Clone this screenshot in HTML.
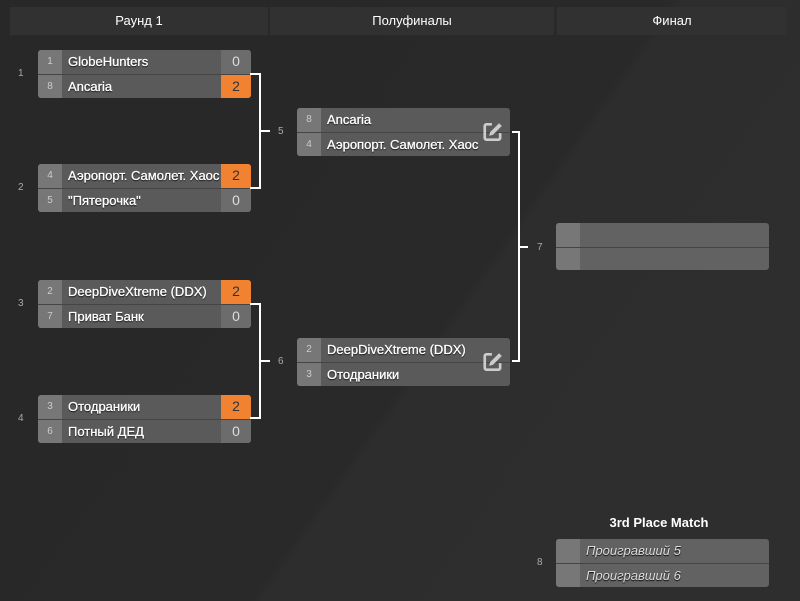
<!DOCTYPE html>
<html><head><meta charset="utf-8"><style>
*{margin:0;padding:0;box-sizing:border-box}
body{width:800px;height:601px;overflow:hidden;background:#2a2a2a;font-family:"Liberation Sans","DejaVu Sans",sans-serif;position:relative;color:#fff}
.bg{position:absolute;inset:0;background:linear-gradient(125deg,#282828 0%,#292929 55%,#2d2d2d 56%,#2e2e2e 100%)}
.hd{position:absolute;top:7px;height:28px;background:#313131;color:#fff;font-size:13px;line-height:28px;text-align:center}
.m{position:absolute;width:213px;height:48px;border-radius:3px;overflow:hidden;background:#5a5a5a}
.r{position:absolute;left:0;width:100%;height:24px;font-size:13px;line-height:23px}
.r.b{top:24px;border-top:1px solid #454545}
.s{position:absolute;left:0;top:0;width:24px;height:100%;background:#777;color:#ccc;font-size:10px;text-align:center}
.n{position:absolute;left:30px;top:0;white-space:nowrap;width:152px;overflow:hidden;text-shadow:0 1px 1px #000;-webkit-text-stroke:0.3px #fff}
.sc{position:absolute;right:0;top:0;width:30px;height:100%;background:#6c6c6c;color:#ddd;text-align:center;font-size:14px}
.sc.o{background:#f08232;color:#333}
.lb{position:absolute;font-size:10px;color:#aaa}
.ln{position:absolute;background:#fff}
.ed{position:absolute;width:22px;height:22px}
.it{font-style:italic;color:#ddd;-webkit-text-stroke:0}
</style></head><body>
<div class="bg"></div>
<div class="hd" style="left:10px;width:258px">Раунд 1</div>
<div class="hd" style="left:270px;width:284px">Полуфиналы</div>
<div class="hd" style="left:557px;width:230px">Финал</div>

<div class="m" style="left:38px;top:50px"><div class="r"><div class="s">1</div><div class="n">GlobeHunters</div><div class="sc">0</div></div><div class="r b"><div class="s">8</div><div class="n">Ancaria</div><div class="sc o">2</div></div></div>
<div class="m" style="left:38px;top:164px"><div class="r"><div class="s">4</div><div class="n">Аэропорт. Самолет. Хаос</div><div class="sc o">2</div></div><div class="r b"><div class="s">5</div><div class="n">"Пятерочка"</div><div class="sc">0</div></div></div>
<div class="m" style="left:38px;top:280px"><div class="r"><div class="s">2</div><div class="n">DeepDiveXtreme (DDX)</div><div class="sc o">2</div></div><div class="r b"><div class="s">7</div><div class="n">Приват Банк</div><div class="sc">0</div></div></div>
<div class="m" style="left:38px;top:395px"><div class="r"><div class="s">3</div><div class="n">Отодраники</div><div class="sc o">2</div></div><div class="r b"><div class="s">6</div><div class="n">Потный ДЕД</div><div class="sc">0</div></div></div>
<div class="lb" style="left:18px;top:68px">1</div>
<div class="lb" style="left:18px;top:182px">2</div>
<div class="lb" style="left:18px;top:298px">3</div>
<div class="lb" style="left:18px;top:413px">4</div>

<div class="ln" style="left:250px;top:73px;width:11px;height:2px"></div>
<div class="ln" style="left:259px;top:73px;width:2px;height:116px"></div>
<div class="ln" style="left:250px;top:187px;width:11px;height:2px"></div>
<div class="ln" style="left:259px;top:130px;width:11px;height:2px"></div>
<div class="lb" style="left:278px;top:126px">5</div>
<div class="ln" style="left:250px;top:303px;width:11px;height:2px"></div>
<div class="ln" style="left:259px;top:303px;width:2px;height:116px"></div>
<div class="ln" style="left:250px;top:417px;width:11px;height:2px"></div>
<div class="ln" style="left:259px;top:360px;width:11px;height:2px"></div>
<div class="lb" style="left:278px;top:356px">6</div>

<div class="m" style="left:297px;top:108px"><div class="r"><div class="s">8</div><div class="n">Ancaria</div></div><div class="r b"><div class="s">4</div><div class="n" style="width:152px">Аэропорт. Самолет. Хаос</div></div>
<svg class="ed" style="left:185px;top:13px" viewBox="0 0 20 20"><path d="M9 3H4a1.5 1.5 0 0 0-1.5 1.5v11A1.5 1.5 0 0 0 4 17h11a1.5 1.5 0 0 0 1.5-1.5V11" fill="none" stroke="#ccc" stroke-width="2.4"/><path d="M15.5 2l2.5 2.5-8 8-3.5 1 1-3.5z" fill="#ccc"/></svg></div>
<div class="m" style="left:297px;top:338px"><div class="r"><div class="s">2</div><div class="n">DeepDiveXtreme (DDX)</div></div><div class="r b"><div class="s">3</div><div class="n">Отодраники</div></div>
<svg class="ed" style="left:185px;top:13px" viewBox="0 0 20 20"><path d="M9 3H4a1.5 1.5 0 0 0-1.5 1.5v11A1.5 1.5 0 0 0 4 17h11a1.5 1.5 0 0 0 1.5-1.5V11" fill="none" stroke="#ccc" stroke-width="2.4"/><path d="M15.5 2l2.5 2.5-8 8-3.5 1 1-3.5z" fill="#ccc"/></svg></div>

<div class="ln" style="left:512px;top:131px;width:8px;height:2px"></div>
<div class="ln" style="left:518px;top:131px;width:2px;height:231px"></div>
<div class="ln" style="left:512px;top:360px;width:8px;height:2px"></div>
<div class="ln" style="left:518px;top:246px;width:10px;height:2px"></div>
<div class="lb" style="left:537px;top:242px">7</div>

<div class="m" style="left:556px;top:223px;height:47px;background:#626262"><div class="r"><div class="s"></div></div><div class="r b"><div class="s"></div></div></div>

<div style="position:absolute;left:556px;top:515px;width:206px;text-align:center;font-weight:bold;font-size:13px">3rd Place Match</div>
<div class="m" style="left:556px;top:539px;width:213px;height:48px;background:#626262"><div class="r"><div class="s"></div><div class="n it">Проигравший 5</div></div><div class="r b"><div class="s"></div><div class="n it">Проигравший 6</div></div></div>
<div class="lb" style="left:537px;top:557px">8</div>
</body></html>
